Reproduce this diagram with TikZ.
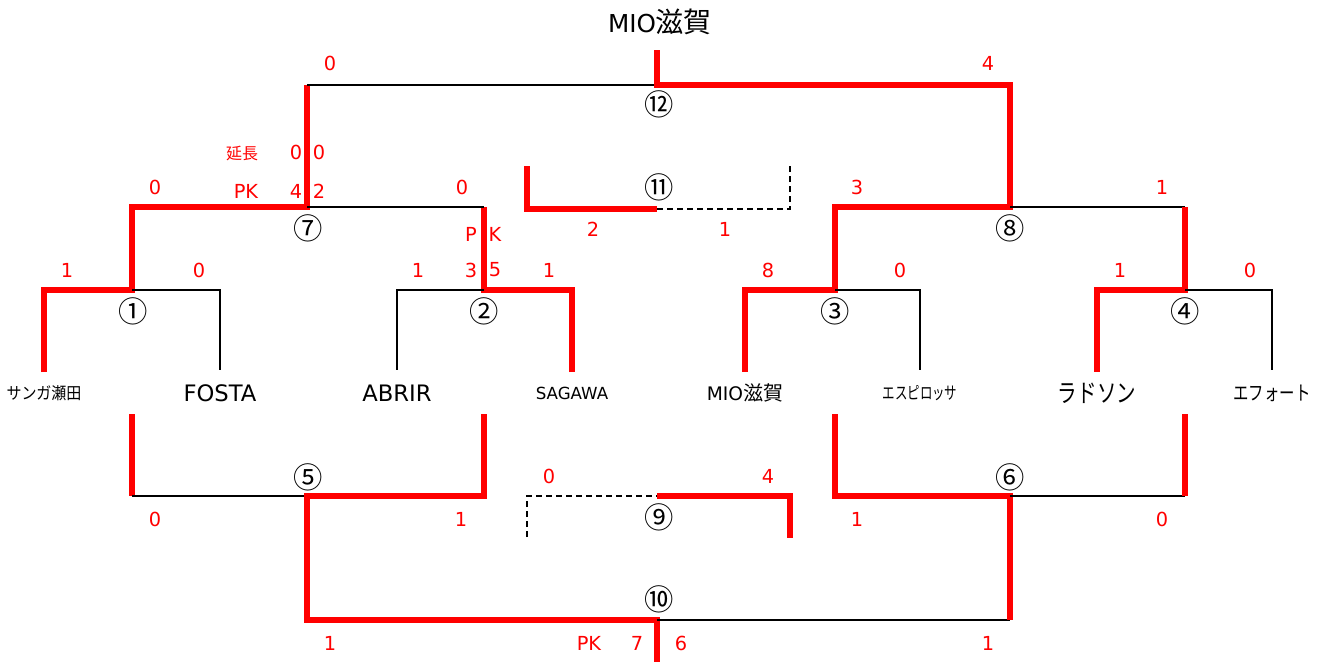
\documentclass[tikz,border=0pt]{standalone}
\usepackage{fontspec}
\setmainfont{DejaVu Sans}
\newfontfamily\jp{Noto Sans CJK JP}
\newfontfamily\jpa[FakeStretch=0.9]{Noto Sans CJK JP}
\newfontfamily\jpb[FakeStretch=0.77]{Noto Sans CJK JP}
\newfontfamily\jpd[FakeStretch=0.72]{Noto Sans CJK JP}
\begin{document}
\begin{tikzpicture}[x=0.75pt,y=-0.75pt,
  win/.style={draw=red,line width=4.5pt,line join=miter},
  lose/.style={draw=black,line width=1.5pt},
  tbd/.style={draw=black,line width=1.5pt,dash pattern=on 4.5pt off 3pt},
  sc/.style={text=red,font=\fontsize{14.5}{16}\selectfont,inner sep=0pt},
  mn/.style={font=\jp\fontsize{22}{24}\selectfont,inner sep=0pt},
  team/.style={inner sep=0pt}]
\path[use as bounding box] (0,0) rectangle (1325,662);

% ---------- top half brackets ----------
% match 1
\draw[win] (44,372) -- (44,290) -- (132,290) -- (132,207) -- (307,207) -- (307,85);
\draw[lose] (132,290) -- (220,290) -- (220,370);
% match 2
\draw[win] (572,372) -- (572,290) -- (484,290) -- (484,207);
\draw[lose] (484,290) -- (397,290) -- (397,370);
\draw[lose] (307,207) -- (484,207);
% final 12
\draw[lose] (307,85) -- (657,85);
\draw[win] (657,50) -- (657,85) -- (1010,85) -- (1010,207) -- (835,207) -- (835,290) -- (745,290) -- (745,372);
\draw[lose] (835,290) -- (920,290) -- (920,370);
\draw[lose] (1010,207) -- (1185,207);
\draw[win] (1185,207) -- (1185,290) -- (1097,290) -- (1097,372);
\draw[lose] (1185,290) -- (1272,290) -- (1272,370);
% 3rd place 11
\draw[win] (527,166) -- (527,209) -- (657,209);
\draw[tbd] (657,209) -- (790,209) -- (790,163);

% ---------- bottom half brackets ----------
\draw[win] (132,414) -- (132,496);
\draw[lose] (132,496) -- (307,496);
\draw[win] (484,414) -- (484,496) -- (307,496) -- (307,620) -- (657,620) -- (657,662);
\draw[lose] (657,620) -- (1010,620);
\draw[win] (835,414) -- (835,496) -- (1010,496) -- (1010,620);
\draw[lose] (1010,496) -- (1185,496);
\draw[win] (1185,414) -- (1185,496);
% match 9
\draw[tbd] (527,537) -- (527,496) -- (657,496);
\draw[win] (657,496) -- (790,496) -- (790,538);

% ---------- champion ----------
\node[team] (champ) at (660,22) {\fontsize{18.5}{20}\selectfont MIO{\jp\fontsize{21}{22}\selectfont 滋賀}};

% ---------- teams ----------
\node[team] (t1) at (44,393) {\jpa\fontsize{12.5}{14}\selectfont サンガ瀬田};
\node[team] (t2) at (220,393) {\fontsize{17}{19}\selectfont FOSTA};
\node[team] (t3) at (397,393) {\fontsize{17}{19}\selectfont ABRIR};
\node[team] (t4) at (572,393) {\fontsize{12.5}{14}\selectfont SAGAWA};
\node[team] (t5) at (745,393) {\fontsize{14}{16}\selectfont MIO{\jp\fontsize{15}{16}\selectfont 滋賀}};
\node[team] (t6) at (920,393) {\jpd\fontsize{13}{15}\selectfont エスピロッサ};
\node[team] (t7) at (1097,393) {\jpb\fontsize{19}{21}\selectfont ラドソン};
\node[team] (t8) at (1272,393) {\jpb\fontsize{15}{17}\selectfont エフォート};

% ---------- match numbers ----------
\node[mn] (m1) at (133,311) {①};
\node[mn] (m2) at (484,311) {②};
\node[mn] (m3) at (835,311) {③};
\node[mn] (m4) at (1185,311) {④};
\node[mn] (m5) at (308,477) {⑤};
\node[mn] (m6) at (1010,477) {⑥};
\node[mn] (m7) at (308,228) {⑦};
\node[mn] (m8) at (1010,228) {⑧};
\node[mn] (m9) at (659,517) {⑨};
\node[mn] (m10) at (659,599) {⑩};
\node[mn] (m11) at (659,187) {⑪};
\node[mn] (m12) at (659,104) {⑫};

% ---------- scores ----------
\node[sc] (a1) at (67,270) {1};
\node[sc] (a2) at (199,270) {0};
\node[sc] (a3) at (418,270) {1};
\node[sc] (a4) at (471,270) {3};
\node[sc] (a5) at (495,270) {5};
\node[sc] (a6) at (549,270) {1};
\node[sc] (a7) at (768,270) {8};
\node[sc] (a8) at (900,270) {0};
\node[sc] (a9) at (1120,270) {1};
\node[sc] (a10) at (1250,270) {0};
\node[sc] (p2a) at (471,234) {P};
\node[sc] (p2b) at (495,234) {K};

\node[sc] (b1) at (155,187) {0};
\node[sc] (b2) at (462,187) {0};
\node[sc] (b3) at (857,187) {3};
\node[sc] (b4) at (1162,187) {1};
\node[sc] (pk7) at (246,191) {PK};
\node[sc] (pk7a) at (296,191) {4};
\node[sc] (pk7b) at (319,191) {2};
\node[text=red,inner sep=0pt,font=\jp\fontsize{12}{14}\selectfont] (et7) at (242,153) {延長};
\node[sc] (et7a) at (296,152) {0};
\node[sc] (et7b) at (319,152) {0};

\node[sc] (c1) at (330,63) {0};
\node[sc] (c2) at (988,63) {4};
\node[sc] (d1) at (593,229) {2};
\node[sc] (d2) at (725,229) {1};

\node[sc] (e1) at (155,519) {0};
\node[sc] (e2) at (461,519) {1};
\node[sc] (e3) at (857,519) {1};
\node[sc] (e4) at (1162,519) {0};
\node[sc] (f1) at (549,476) {0};
\node[sc] (f2) at (768,476) {4};

\node[sc] (g1) at (330,643) {1};
\node[sc] (g2) at (988,643) {1};
\node[sc] (pk10) at (589,643) {PK};
\node[sc] (g3) at (637,643) {7};
\node[sc] (g4) at (681,643) {6};
\end{tikzpicture}
\end{document}
